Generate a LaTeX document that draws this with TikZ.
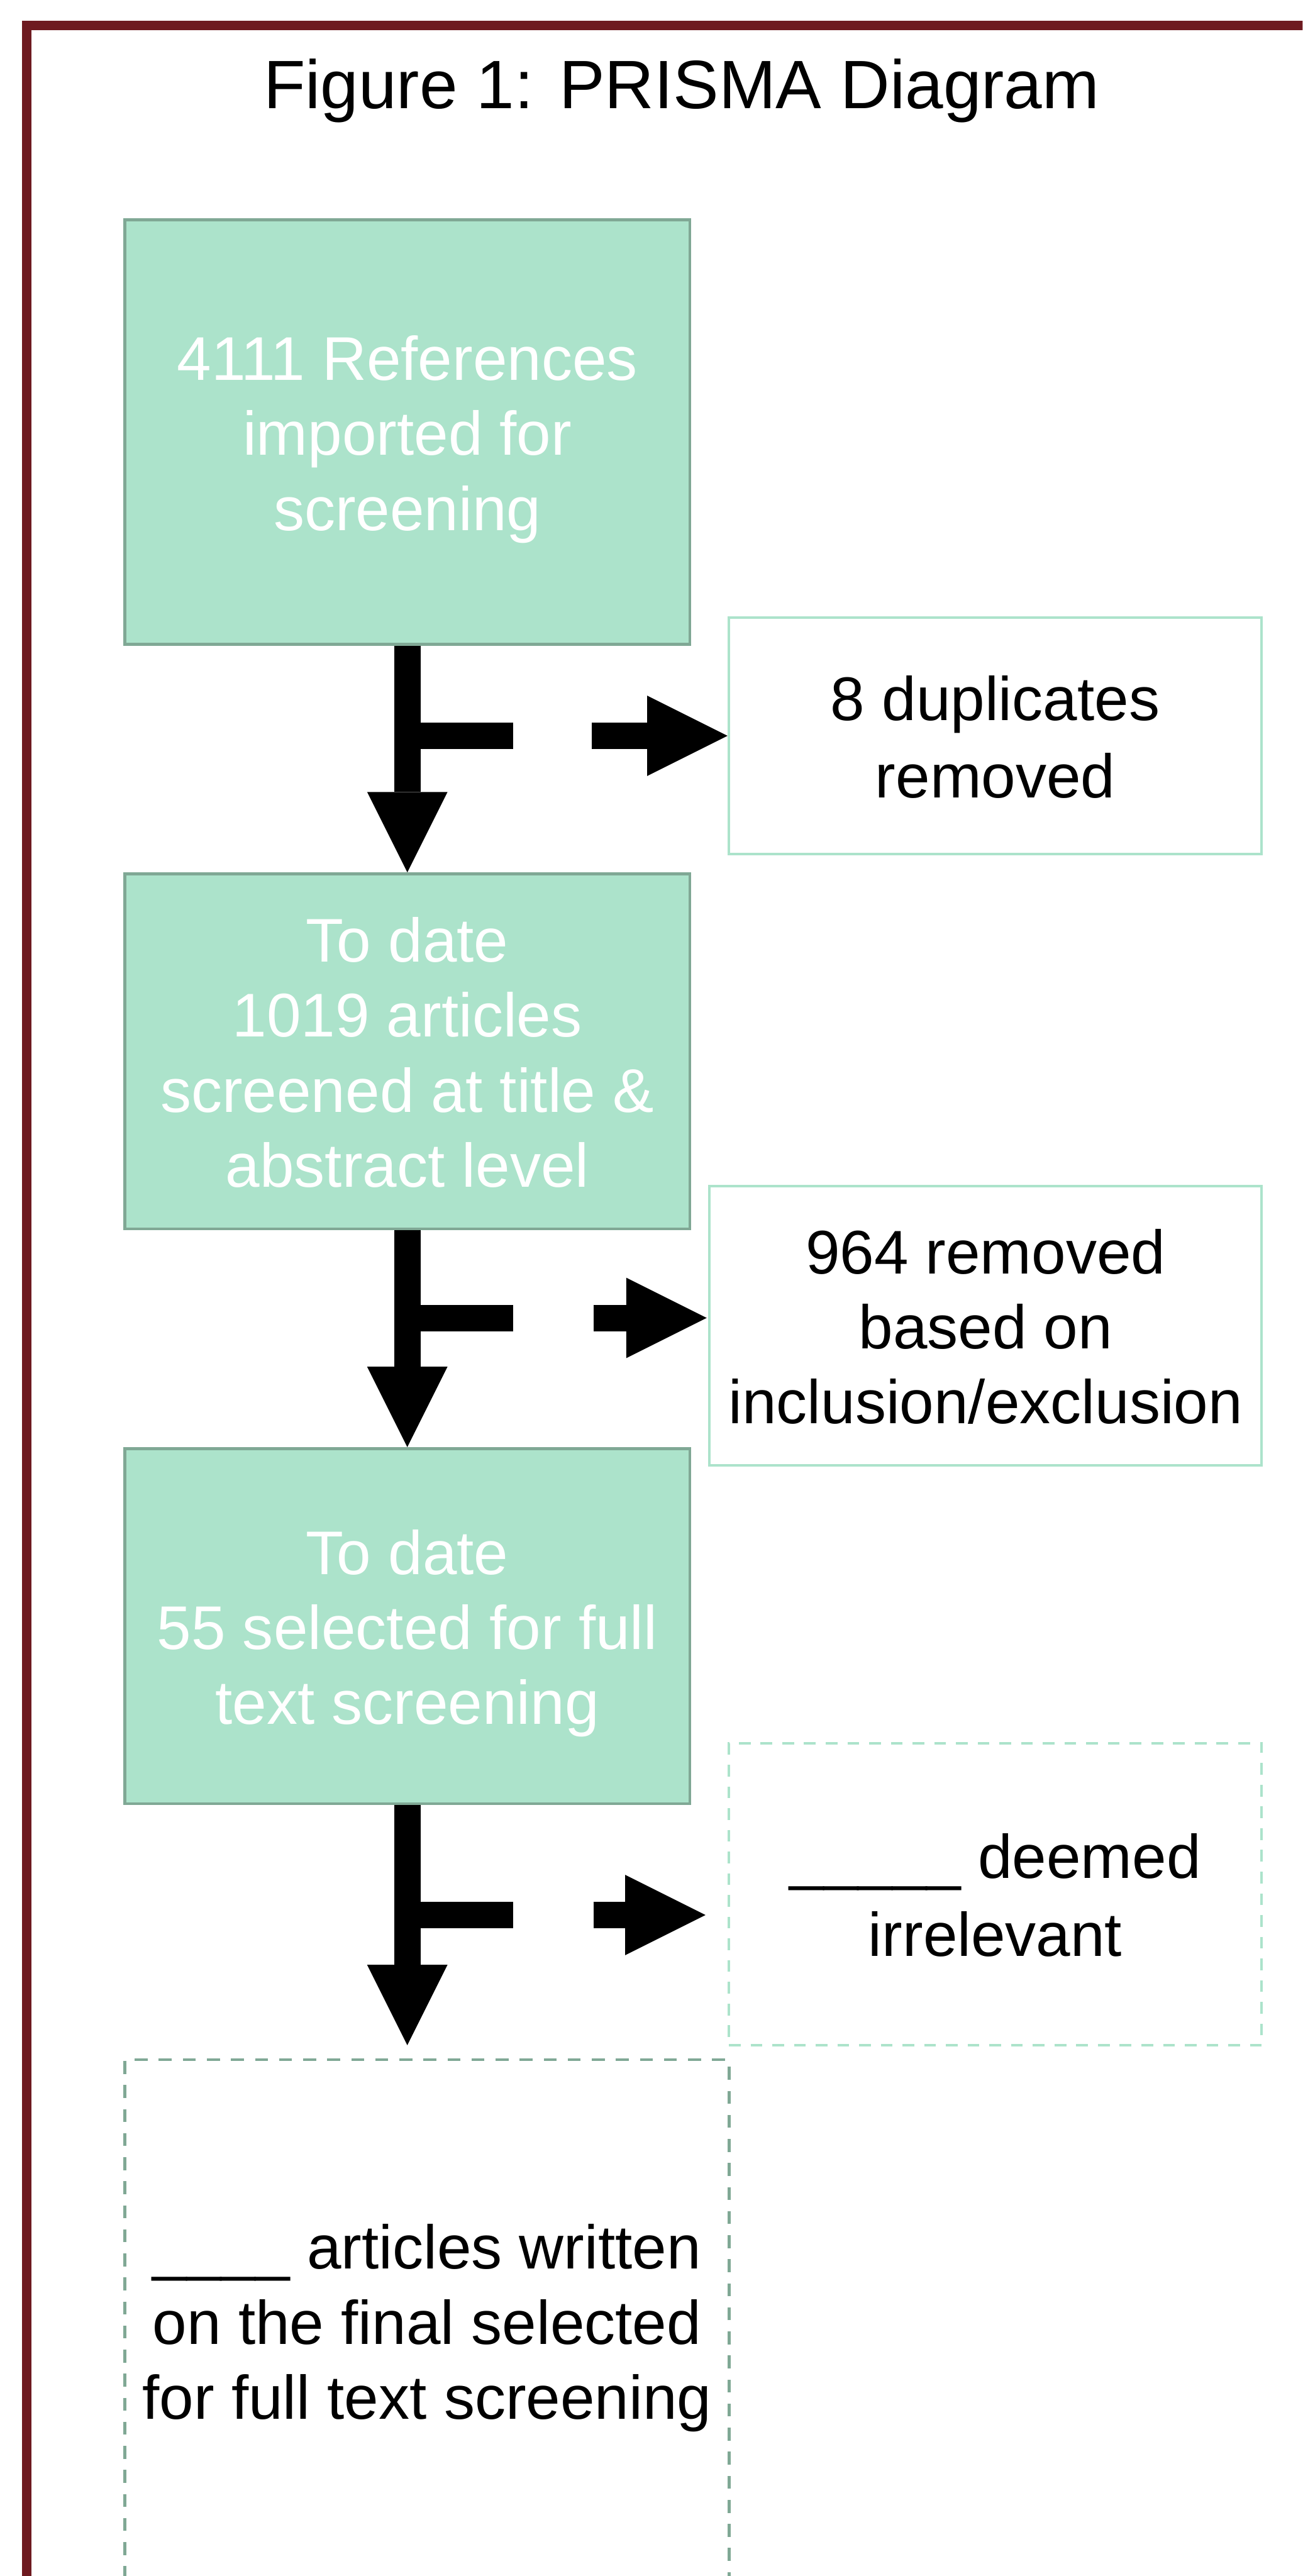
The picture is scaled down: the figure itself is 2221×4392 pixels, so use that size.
\documentclass[tikz,border=0pt]{standalone}
\usepackage{fontspec}
\setmainfont{Liberation Sans}
\usetikzlibrary{arrows.meta}
\definecolor{framered}{HTML}{6E1A20}
\definecolor{boxfill}{HTML}{ACE3CB}
\definecolor{boxline}{HTML}{80A895}
\definecolor{lightline}{HTML}{ACE3CB}
\newcommand\ls{\rule[-0.25cm]{0pt}{1.29cm}}
\begin{document}
\begin{tikzpicture}[x=0.01cm,y=-0.01cm,
  txt/.style={font=\fontsize{29.9pt}{36.4pt}\selectfont, align=center, inner sep=0pt},
  greenbox/.style={txt, draw=boxline, fill=boxfill, line width=0.05cm, text=white},
  whitebox/.style={txt, draw=lightline, line width=0.045cm, text=black},
  dashbox/.style={txt, draw=lightline, line width=0.045cm, dash pattern=on 0.2cm off 0.17cm},
  dashboxdark/.style={txt, draw=boxline, line width=0.05cm, dash pattern=on 0.22cm off 0.19cm},
  bigarrow/.style={line width=0.45cm, -{Triangle[length=1.37cm,width=1.37cm,line width=0pt]}},
  barline/.style={line width=0.45cm}]
\useasboundingbox (0,0) rectangle (2221,4392);
\clip (0,0) rectangle (2221,4392);
\draw[framered, line width=0.16cm] (45.5,43) rectangle (2400,4600);

\node[font=\fontsize{33.2pt}{40pt}\selectfont, anchor=base] (title) at (1162,185) {Figure 1: PRISMA Diagram};

\node[greenbox, minimum width=9.63cm, minimum height=7.23cm] (b1) at (694.5,736.5) {\ls 4111 References\\imported for\\screening\ls};
\node[whitebox, minimum width=9.08cm, minimum height=4.03cm] (b2) at (1697,1254.5) {\ls 8 duplicates\\removed\ls};
\node[greenbox, minimum width=9.63cm, minimum height=6.05cm] (b3) at (694.5,1792.5) {\ls To date\\1019 articles\\screened at title \&\\abstract level\ls};
\node[whitebox, minimum width=9.41cm, minimum height=4.76cm] (b4) at (1680.5,2260) {\ls 964 removed\\based on\\inclusion/exclusion\ls};
\node[greenbox, minimum width=9.63cm, minimum height=6.05cm] (b5) at (694.5,2772.5) {\ls To date\\55 selected for full\\text screening\ls};
\node[dashbox, minimum width=9.08cm, minimum height=5.15cm] (b6) at (1697,3229.5) {\ls\_\_\_\_\_ deemed\\irrelevant\ls};
\node[dashboxdark, minimum width=10.3cm, minimum height=8.9cm] (b7) at (728,3957) {\ls\_\_\_\_ articles written\\on the final selected\\for full text screening\ls};

% arrow 1
\draw[bigarrow] (b1.south) -- (b3.north);
\coordinate (j1) at (694.5,1254);
\draw[barline] (j1) -- ++(180,0);
\draw[bigarrow] ([xshift=-2.31cm]b2.west) -- (b2.west);

% arrow 2
\draw[bigarrow] (b3.south) -- (b5.north);
\coordinate (j2) at (694.5,2247);
\coordinate (t2) at (1205,2247);
\draw[barline] (j2) -- ++(180,0);
\draw[bigarrow] ([xshift=-1.93cm]t2) -- (t2);

% arrow 3
\coordinate (t3d) at (694.5,3487);
\draw[bigarrow] (b5.south) -- (t3d);
\coordinate (j3) at (694.5,3265);
\coordinate (t3) at (1203,3265);
\draw[barline] (j3) -- ++(180,0);
\draw[bigarrow] ([xshift=-1.91cm]t3) -- (t3);
\end{tikzpicture}
\end{document}
